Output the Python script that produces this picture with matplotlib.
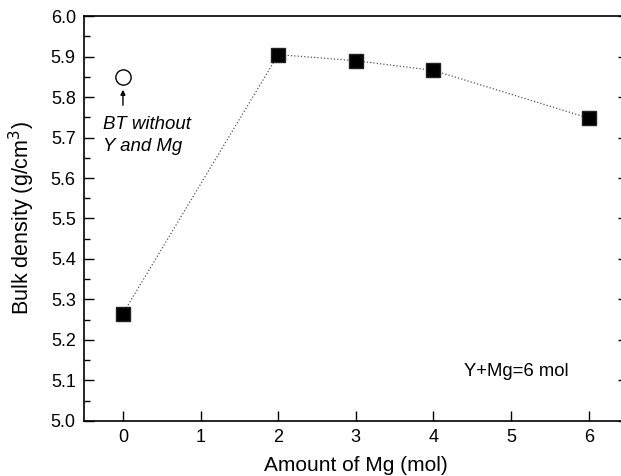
import matplotlib
matplotlib.use("Agg")
import matplotlib.pyplot as plt
from matplotlib.ticker import MultipleLocator

plt.rcParams['font.family'] = ['Liberation Sans', 'DejaVu Sans']

mg_amount = [0, 2, 3, 4, 6]
bulk_density = [5.265, 5.905, 5.890, 5.866, 5.748]
bt_x = [0]
bt_density = [5.850]

fig = plt.figure(figsize=(6.21, 4.76), dpi=100)
ax = fig.add_axes([0.1355, 0.116, 0.875, 0.850])

ax.plot(mg_amount, bulk_density, linestyle=':', color='#555555', linewidth=0.9,
        marker='s', markersize=10.5, markerfacecolor='black', markeredgecolor='#222222', zorder=3)
ax.plot(bt_x, bt_density, linestyle='none', marker='o', markersize=11,
        markerfacecolor='white', markeredgecolor='black', markeredgewidth=1.0, zorder=3)

ax.annotate('', xy=(0, 5.825), xytext=(0, 5.773),
            arrowprops=dict(arrowstyle='-|>', color='black', lw=1.0, mutation_scale=7))
ax.text(-0.26, 5.706, 'BT without\nY and Mg', fontsize=13.4, style='italic',
        ha='left', va='center', linespacing=1.4)
ax.text(4.39, 5.123, 'Y+Mg=6 mol', fontsize=13.3, ha='left', va='center')

ax.set_xlim(-0.5, 6.5)
ax.set_ylim(5.0, 6.0)
ax.xaxis.set_major_locator(MultipleLocator(1))
ax.yaxis.set_major_locator(MultipleLocator(0.1))
ax.yaxis.set_minor_locator(MultipleLocator(0.05))
ax.tick_params(axis='both', which='both', direction='in', top=False, right=True,
               labelsize=13, width=1.0)
ax.tick_params(axis='both', which='major', length=7, pad=6)
ax.tick_params(axis='y', which='minor', length=4)
ax.yaxis.set_major_formatter(matplotlib.ticker.FormatStrFormatter('%.1f'))
for s in ax.spines.values():
    s.set_linewidth(1.2)

ax.set_xlabel('Amount of Mg (mol)', fontsize=15, labelpad=7)
ax.set_ylabel('Bulk density (g/cm$^3$)', fontsize=15.5, labelpad=10)

fig.savefig('out.png', dpi=100)
